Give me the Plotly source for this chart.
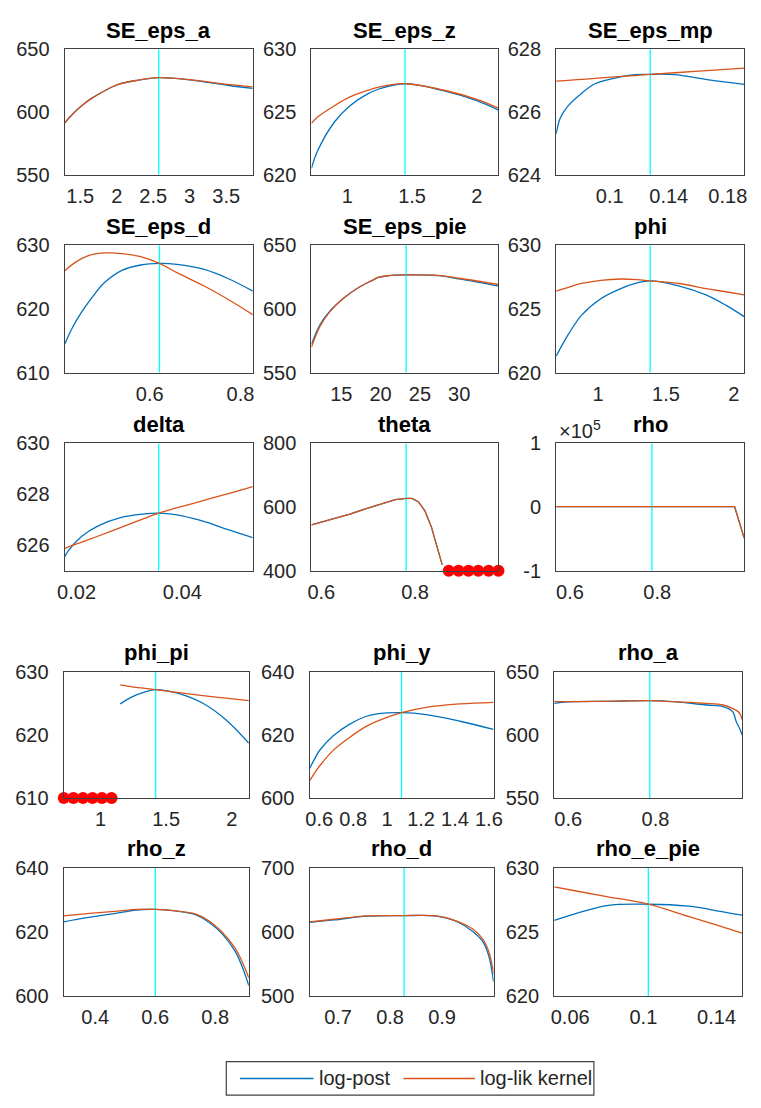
import plotly.graph_objects as go

# ---------------------------------------------------------------------------
# Mode-check curves: log-posterior and log-likelihood kernel around the mode
# ---------------------------------------------------------------------------
param_names = ["SE_eps_a", "SE_eps_z", "SE_eps_mp", "SE_eps_d", "SE_eps_pie", "phi",
               "delta", "theta", "rho", "phi_pi", "phi_y", "rho_a",
               "rho_z", "rho_d", "rho_e_pie"]
series_names = ["log-post", "log-lik kernel"]

mode_values = [2.576, 1.445, 0.1274, 0.6216, 23.25, 1.384,
               0.03554, 0.781, 0.7877, 1.42, 1.085, 0.787,
               0.60, 0.827, 0.1027]

y_limits = [(550, 650), (620, 630), (624, 628), (610, 630), (550, 650), (620, 630),
            (625, 630), (400, 800), (-1e5, 1e5), (610, 630), (600, 640), (550, 650),
            (600, 640), (500, 700), (620, 630)]

y_ticks = [[550, 600, 650], [620, 625, 630], [624, 626, 628], [610, 620, 630],
           [550, 600, 650], [620, 625, 630], [626, 628, 630], [400, 600, 800],
           [-1e5, 0, 1e5], [610, 620, 630], [600, 620, 640], [550, 600, 650],
           [600, 620, 640], [500, 600, 700], [620, 625, 630]]

x_ticks = [[1.5, 2, 2.5, 3, 3.5], [1, 1.5, 2], [0.1, 0.14, 0.18], [0.6, 0.8],
           [15, 20, 25, 30], [1, 1.5, 2], [0.02, 0.04], [0.6, 0.8], [0.6, 0.8],
           [1, 1.5, 2], [0.6, 0.8, 1, 1.2, 1.4, 1.6], [0.6, 0.8],
           [0.4, 0.6, 0.8], [0.7, 0.8, 0.9], [0.06, 0.1, 0.14]]

SE_eps_a_x = [1.288, 1.40, 1.52, 1.65, 1.83, 2.02, 2.28, 2.576, 3.00, 3.52, 3.864]
SE_eps_a_post = [591.4, 598.6, 605.0, 610.6, 616.7, 621.9, 625.2, 627.3, 625.6, 621.3, 618.8]
SE_eps_a_lik = [591.4, 598.6, 605.0, 610.6, 616.7, 621.9, 625.2, 627.3, 625.8, 621.9, 620.0]

SE_eps_z_x = [0.7225, 0.77, 0.90, 1.02, 1.15, 1.25, 1.445, 1.74, 2.0, 2.1675]
SE_eps_z_post = [620.5, 621.9, 624.2, 625.5, 626.4, 626.85, 627.25, 626.7, 625.9, 625.15]
SE_eps_z_lik = [624.1, 624.6, 625.5, 626.2, 626.7, 627.0, 627.25, 626.75, 626.0, 625.3]

SE_eps_mp_x = [0.0637, 0.0664, 0.0719, 0.081, 0.090, 0.1035, 0.117, 0.1274, 0.144, 0.166, 0.1911]
SE_eps_mp_post = [625.3, 625.8, 626.2, 626.6, 626.9, 627.08, 627.19, 627.2, 627.19, 627.03, 626.88]
SE_eps_mp_lik = [626.98, 626.99, 627.01, 627.04, 627.07, 627.12, 627.16, 627.2, 627.25, 627.32, 627.4]

SE_eps_d_x = [0.413, 0.43, 0.45, 0.47, 0.50, 0.54, 0.58, 0.6216, 0.66, 0.72, 0.775, 0.827]
SE_eps_d_post = [614.5, 617.1, 619.5, 621.5, 624.1, 626.1, 626.9, 627.15, 627.0, 626.2, 624.7, 622.8]
SE_eps_d_lik = [626.0, 627.0, 627.9, 628.5, 628.8, 628.7, 628.2, 627.15, 625.7, 623.6, 621.4, 619.1]

SE_eps_pie_x = [11.2, 12.3, 13.5, 15.2, 17.3, 18.9, 19.8, 21.0, 23.25, 27.3, 30.2, 35.0]
SE_eps_pie_post = [572.3, 587.7, 598.0, 608.0, 617.2, 622.3, 624.9, 626.1, 626.7, 626.2, 623.4, 618.0]
SE_eps_pie_lik = [570.2, 586.5, 597.5, 608.0, 617.2, 622.3, 624.9, 626.1, 626.7, 626.4, 623.9, 619.2]

phi_x = [0.692, 0.781, 0.878, 1.02, 1.167, 1.288, 1.384, 1.60, 1.795, 1.94, 2.076]
phi_post = [621.3, 623.0, 624.5, 625.8, 626.6, 627.05, 627.2, 626.8, 626.1, 625.3, 624.4]
phi_lik = [626.4, 626.7, 627.0, 627.25, 627.35, 627.3, 627.2, 627.0, 626.6, 626.35, 626.1]

delta_x = [0.01777, 0.0185, 0.0210, 0.0240, 0.0283, 0.0326, 0.03554, 0.0387, 0.0436, 0.0485, 0.05331]
delta_post = [625.55, 625.8, 626.35, 626.75, 627.08, 627.22, 627.26, 627.2, 626.96, 626.62, 626.3]
delta_lik = [625.87, 625.93, 626.12, 626.35, 626.69, 627.03, 627.26, 627.45, 627.73, 628.01, 628.3]

theta_x = [0.579, 0.620, 0.661, 0.696, 0.723, 0.758, 0.781, 0.793, 0.807, 0.821, 0.835,
           0.845, 0.858, 0.872, 0.893, 0.914, 0.935, 0.957, 0.978]
theta_post = [543.6, 561.0, 577.5, 595.0, 608.0, 623.0, 627.0, 627.0, 616.6, 588.0, 536.7,
              485.0, 418.0, None, None, None, None, None, None]
theta_lik = [543.6, 561.0, 577.5, 595.0, 608.0, 623.0, 627.0, 627.0, 616.6, 588.0, 536.7,
             485.0, 418.0, None, None, None, None, None, None]

rho_x = [0.5686, 0.60, 0.70, 0.7877, 0.90, 0.977, 0.999]
rho_post = [626.0, 626.5, 627.0, 627.2, 626.5, 620.0, -49000.0]
rho_lik = [626.0, 626.5, 627.0, 627.2, 626.5, 620.0, -49000.0]

phi_pi_x = [0.72, 0.793, 0.866, 0.939, 1.011, 1.084, 1.15, 1.24, 1.34, 1.42, 1.585, 1.78, 1.955, 2.13]
phi_pi_post = [None, None, None, None, None, None, 624.9, 626.0, 626.8, 627.15, 626.6, 625.0, 622.4, 618.7]
phi_pi_lik = [None, None, None, None, None, None, 627.9, 627.6, 627.35, 627.15, 626.7, 626.2, 625.8, 625.4]

phi_y_x = [0.5425, 0.585, 0.604, 0.681, 0.777, 0.874, 0.95, 1.085, 1.23, 1.43, 1.6275]
phi_y_post = [609.3, 613.6, 615.2, 619.6, 623.3, 625.8, 626.7, 627.0, 626.4, 624.3, 621.7]
phi_y_lik = [605.4, 608.9, 610.3, 615.0, 619.1, 622.6, 624.5, 627.0, 628.7, 629.8, 630.3]

rho_a_x = [0.568, 0.60, 0.70, 0.787, 0.841, 0.917, 0.955, 0.977, 0.985, 0.993, 0.999]
rho_a_post = [624.9, 626.0, 626.5, 627.0, 626.2, 623.6, 622.3, 618.4, 610.7, 605.0, 599.8]
rho_a_lik = [626.2, 626.3, 626.6, 627.0, 626.2, 624.9, 623.6, 621.0, 619.5, 617.1, 612.0]

rho_z_x = [0.295, 0.372, 0.483, 0.537, 0.60, 0.668, 0.736, 0.780, 0.824, 0.868, 0.890, 0.912]
rho_z_post = [623.1, 624.4, 626.0, 626.8, 627.0, 626.5, 625.3, 622.9, 619.3, 613.7, 609.1, 603.3]
rho_z_lik = [625.0, 625.7, 626.5, 627.0, 627.0, 626.5, 625.5, 623.4, 619.8, 614.7, 610.6, 605.7]

rho_d_x = [0.645, 0.692, 0.756, 0.827, 0.889, 0.927, 0.959, 0.978, 0.990, 0.999]
rho_d_post = [614.6, 618.5, 624.5, 625.3, 624.5, 616.5, 600.5, 585.0, 562.0, 522.5]
rho_d_lik = [615.6, 619.6, 624.8, 625.3, 624.8, 617.2, 604.3, 589.0, 568.6, 535.3]

rho_e_pie_x = [0.0513, 0.0626, 0.080, 0.1027, 0.1246, 0.142, 0.154]
rho_e_pie_post = [625.9, 626.4, 627.05, 627.15, 627.0, 626.6, 626.3]
rho_e_pie_lik = [628.5, 628.2, 627.75, 627.15, 626.2, 625.45, 624.9]

grids = [SE_eps_a_x, SE_eps_z_x, SE_eps_mp_x, SE_eps_d_x, SE_eps_pie_x, phi_x,
         delta_x, theta_x, rho_x, phi_pi_x, phi_y_x, rho_a_x, rho_z_x, rho_d_x, rho_e_pie_x]
posts = [SE_eps_a_post, SE_eps_z_post, SE_eps_mp_post, SE_eps_d_post, SE_eps_pie_post, phi_post,
         delta_post, theta_post, rho_post, phi_pi_post, phi_y_post, rho_a_post, rho_z_post,
         rho_d_post, rho_e_pie_post]
liks = [SE_eps_a_lik, SE_eps_z_lik, SE_eps_mp_lik, SE_eps_d_lik, SE_eps_pie_lik, phi_lik,
        delta_lik, theta_lik, rho_lik, phi_pi_lik, phi_y_lik, rho_a_lik, rho_z_lik,
        rho_d_lik, rho_e_pie_lik]
# panels whose curves have sharp corners are drawn with straight segments
linear_panels = {"theta", "rho"}

# ---------------------------------------------------------------------------
# Figure geometry (pixels) and styling
# ---------------------------------------------------------------------------
W, H = 761, 1108
cols_upper = [(59, 251), (311, 502), (561, 753)]
cols_lower = [(58, 247), (309, 497), (559, 751)]
rows_px = [(39, 167), (239, 369), (441, 571), (674, 803), (874, 1005)]

BLUE = "#0072BD"
ORANGE = "#D95319"
CYAN = "#00FFFF"
AXIS_COL = "#404040"
TXT_COL = "#262626"
FONT = "Liberation Sans, Arial, sans-serif"
TICK_SIZE = 20
TITLE_SIZE = 22

fig = go.Figure()
annotations = []
shapes = []
layout_axes = {}


def fmt(v):
    return f"{v:g}"


for i, name in enumerate(param_names):
    r, c = divmod(i, 3)
    cols = cols_upper if r < 3 else cols_lower
    px0, px1 = cols[c]
    py0, py1 = rows_px[r]
    sfx = "" if i == 0 else str(i + 1)
    xa, ya = "x" + sfx, "y" + sfx

    xs = grids[i]
    lo, hi = y_limits[i]
    shape = "linear" if name in linear_panels else "spline"

    fig.add_trace(go.Scatter(x=xs, y=posts[i], mode="lines", xaxis=xa, yaxis=ya,
                             line=dict(color=BLUE, width=1.3, shape=shape),
                             connectgaps=False, showlegend=False, name=series_names[0]))
    fig.add_trace(go.Scatter(x=[mode_values[i], mode_values[i]], y=[lo, hi], mode="lines",
                             xaxis=xa, yaxis=ya, line=dict(color=CYAN, width=1.3),
                             showlegend=False, hoverinfo="skip"))
    nan_x = [x for x, v in zip(xs, posts[i]) if v is None]
    if nan_x:
        fig.add_trace(go.Scatter(x=nan_x, y=[lo] * len(nan_x), mode="markers",
                                 xaxis=xa, yaxis=ya, cliponaxis=False,
                                 marker=dict(color="#FF0000", size=12,
                                             line=dict(color="#FF0000", width=0)),
                                 showlegend=False))
    fig.add_trace(go.Scatter(x=xs, y=liks[i], mode="lines", xaxis=xa, yaxis=ya,
                             line=dict(color=ORANGE, width=1.3, shape=shape),
                             connectgaps=False, showlegend=False, name=series_names[1]))

    ytext = [fmt(v / 1e5) for v in y_ticks[i]] if name == "rho" else [fmt(v) for v in y_ticks[i]]

    layout_axes["xaxis" + sfx] = dict(
        domain=[px0 / W, px1 / W], anchor=ya, range=[min(xs), max(xs)],
        tickmode="array", tickvals=x_ticks[i], ticktext=[fmt(v) for v in x_ticks[i]],
        ticks="", ticklabelstandoff=3, showgrid=False, zeroline=False,
        showline=True, mirror=True, linecolor=AXIS_COL, linewidth=1.3,
        tickfont=dict(family=FONT, size=TICK_SIZE, color=TXT_COL))
    layout_axes["yaxis" + sfx] = dict(
        domain=[1 - py1 / H, 1 - py0 / H], anchor=xa, range=[lo, hi],
        tickmode="array", tickvals=y_ticks[i], ticktext=ytext,
        ticks="", ticklabelstandoff=10, showgrid=False, zeroline=False,
        showline=True, mirror=True, linecolor=AXIS_COL, linewidth=1.3,
        tickfont=dict(family=FONT, size=TICK_SIZE, color=TXT_COL))

    annotations.append(dict(text=f"<b>{name}</b>", xref="paper", yref="paper",
                            x=(px0 + px1) / 2 / W, y=1 - py0 / H, xanchor="center",
                            yanchor="middle", yshift=19, showarrow=False,
                            font=dict(family=FONT, size=TITLE_SIZE, color="#000000")))
    if name == "rho":
        annotations.append(dict(text="×10<sup>5</sup>", xref="paper", yref="paper",
                                x=(px0 + 1) / W, y=1 - py0 / H, xanchor="left",
                                yanchor="bottom", yshift=-1, showarrow=False,
                                font=dict(family=FONT, size=TICK_SIZE, color=TXT_COL)))

# legend box drawn below the panels
lg_x0, lg_x1, lg_y0, lg_y1 = 224, 599.5, 1072, 1106
lg_mid = (lg_y0 + lg_y1) / 2
shapes.append(dict(type="rect", xref="paper", yref="paper",
                   x0=lg_x0 / W, x1=lg_x1 / W, y0=1 - lg_y1 / H, y1=1 - lg_y0 / H,
                   line=dict(color=AXIS_COL, width=1.2), fillcolor="white"))
for (lx0, lx1, tx), col, label in zip([(238, 313, 317), (405, 478, 481)], [BLUE, ORANGE], series_names):
    shapes.append(dict(type="line", xref="paper", yref="paper",
                       x0=lx0 / W, x1=lx1 / W, y0=1 - lg_mid / H, y1=1 - lg_mid / H,
                       line=dict(color=col, width=1.5)))
    annotations.append(dict(text=label, xref="paper", yref="paper", x=tx / W,
                            y=1 - lg_mid / H, xanchor="left", yanchor="middle",
                            showarrow=False, font=dict(family=FONT, size=20, color=TXT_COL)))

fig.update_layout(width=W, height=H, margin=dict(l=0, r=0, t=0, b=0),
                  paper_bgcolor="white", plot_bgcolor="white", showlegend=False,
                  annotations=annotations, shapes=shapes, **layout_axes)

fig.write_html("out.html")
